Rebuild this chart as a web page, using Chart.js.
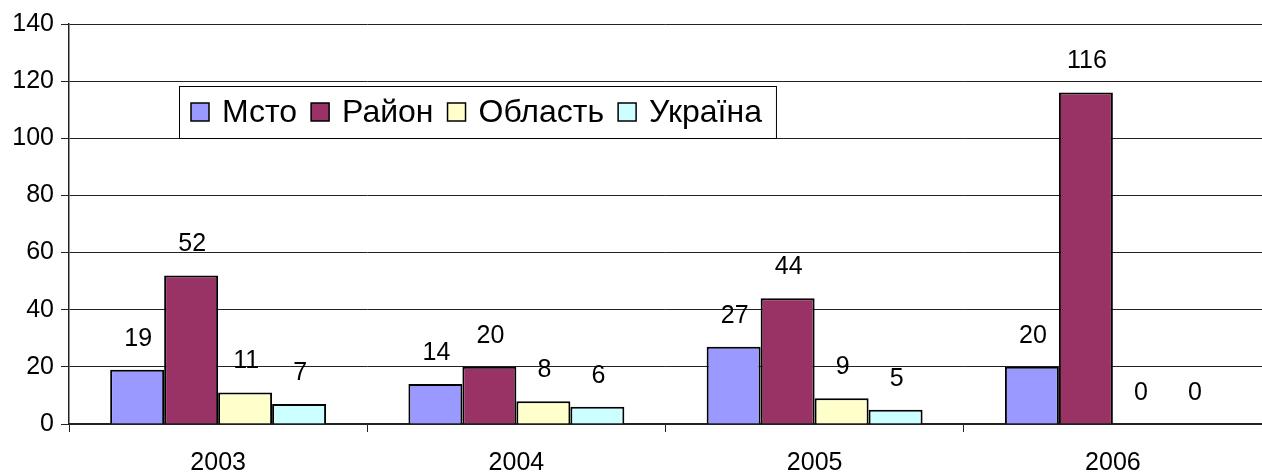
<!DOCTYPE html>
<html>
<head>
<meta charset="utf-8">
<script src="https://cdn.jsdelivr.net/npm/chart.js@4/dist/chart.umd.min.js"></script>
<style>
  html, body { margin: 0; padding: 0; background: #fff; }
  #wrap { width: 1262px; height: 473px; }
</style>
</head>
<body>
<div id="wrap"><canvas id="chart"></canvas></div>
<script>
const years = ["2003", "2004", "2005", "2006"];
const seriesNames = ["Мсто", "Район", "Область", "Україна"];
const misto = [19, 14, 27, 20];
const raion = [52, 20, 44, 116];
const oblast = [11, 8, 9, 0];
const ukraina = [7, 6, 5, 0];
const yTicks = [0, 20, 40, 60, 80, 100, 120, 140];

const colors = ["#9999FF", "#993366", "#FFFFCC", "#CCFFFF"];
const FONT = "'Liberation Sans', Arial, sans-serif";

// value labels above every bar
const valueLabels = {
  id: "valueLabels",
  afterDatasetsDraw(chart) {
    const ctx = chart.ctx;
    ctx.save();
    ctx.font = "25px " + FONT;
    ctx.fillStyle = "#000";
    ctx.textAlign = "center";
    ctx.textBaseline = "middle";
    chart.data.datasets.forEach((ds, i) => {
      chart.getDatasetMeta(i).data.forEach((bar, j) => {
        ctx.fillText(String(ds.data[j]), bar.x + 1, bar.y - 31);
      });
    });
    ctx.restore();
  }
};

// boxed legend floating inside the plot
const boxLegend = {
  id: "boxLegend",
  afterDraw(chart) {
    const ctx = chart.ctx;
    const area = chart.chartArea;
    const left = area.left + 110, top = area.top + 62, h = 52;
    const sq = 18;
    ctx.save();
    ctx.font = "32px " + FONT;
    let w = 12;
    chart.data.datasets.forEach((ds, i) => {
      w += sq + 13 + ctx.measureText(ds.label).width + (i < 3 ? 14 : 14);
    });
    ctx.fillStyle = "#fff";
    ctx.fillRect(left, top, w, h);
    ctx.strokeStyle = "#000";
    ctx.lineWidth = 1;
    ctx.strokeRect(left + 0.5, top + 0.5, w, h);
    let x = left + 12;
    const cy = top + 26;
    ctx.textBaseline = "middle";
    chart.data.datasets.forEach((ds) => {
      ctx.fillStyle = ds.backgroundColor;
      ctx.fillRect(x, cy - sq / 2, sq, sq);
      ctx.lineWidth = 1.5;
      ctx.strokeRect(x, cy - sq / 2, sq, sq);
      x += sq + 13;
      ctx.fillStyle = "#000";
      ctx.fillText(ds.label, x, cy + 1);
      x += ctx.measureText(ds.label).width + 14;
    });
    ctx.restore();
  }
};

const values = [misto, raion, oblast, ukraina];

new Chart(document.getElementById("chart"), {
  type: "bar",
  data: {
    labels: years,
    datasets: seriesNames.map((name, i) => ({
      label: name,
      data: values[i],
      backgroundColor: colors[i],
      borderColor: "#000",
      borderWidth: 2,
      categoryPercentage: 0.724,
      barPercentage: 1
    }))
  },
  options: {
    responsive: true,
    maintainAspectRatio: false,
    animation: false,
    layout: { padding: { top: 24, right: 0, left: 0, bottom: 0 } },
    plugins: {
      legend: { display: false },
      tooltip: { enabled: false }
    },
    scales: {
      x: {
        grid: {
          display: true,
          drawOnChartArea: false,
          drawTicks: true,
          tickLength: 8,
          color: "#222"
        },
        border: { color: "#222", width: 1.5 },
        ticks: {
          color: "#000",
          font: { family: FONT, size: 25 },
          padding: 16
        },
        afterFit(scale) { scale.height = 49; }
      },
      y: {
        min: 0,
        max: 140,
        afterBuildTicks(scale) { scale.ticks = yTicks.map(v => ({ value: v })); },
        grid: {
          color: "#222",
          lineWidth: 1,
          tickLength: 8
        },
        border: { color: "#222", width: 1.5 },
        ticks: {
          color: "#000",
          font: { family: FONT, size: 25 },
          padding: 7
        },
        afterFit(scale) { scale.width = 69; }
      }
    }
  },
  plugins: [valueLabels, boxLegend]
});
</script>
</body>
</html>
